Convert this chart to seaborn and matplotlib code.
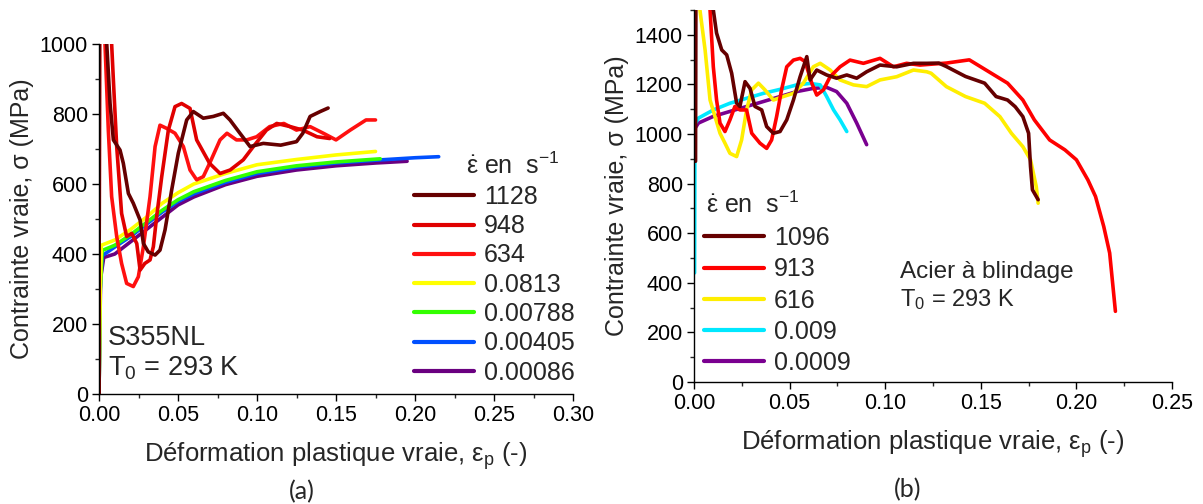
import matplotlib
matplotlib.use('Agg')
import matplotlib.pyplot as plt
import pandas as pd
import seaborn as sns
from matplotlib.ticker import MultipleLocator

# ---- panel (a) : S355NL ----
a_1128_x = [0.0, 0.0003, 0.002, 0.0049, 0.0070, 0.0091, 0.0133, 0.0154, 0.0186, 0.0217, 0.0260, 0.0281, 0.0312,
            0.0355, 0.0386, 0.0418, 0.046, 0.0502, 0.0555, 0.0597, 0.066, 0.0723, 0.0787, 0.0829, 0.0892, 0.0956,
            0.104, 0.115, 0.125, 0.129, 0.1336, 0.140, 0.145]
a_1128_y = [0, 1060, 1100, 1000, 830, 726, 697, 659, 573, 545, 497, 430, 406,
            397, 411, 469, 583, 688, 783, 807, 788, 793, 802, 783, 745, 707,
            716, 711, 721, 745, 793, 807, 817]
a_948_x = [0.0, 0.0003, 0.0025, 0.0080, 0.0091, 0.0112, 0.0143, 0.0175, 0.0207, 0.0239, 0.026, 0.029, 0.0323,
           0.0344, 0.0365, 0.0397, 0.0439, 0.0481, 0.0523, 0.0576, 0.0618, 0.070, 0.0766, 0.083, 0.0913, 0.0977,
           0.106, 0.1125, 0.121, 0.129, 0.138, 0.146]
a_948_y = [0, 1060, 1100, 1000, 897, 707, 516, 450, 459, 430, 354, 373, 383,
           421, 507, 621, 754, 821, 830, 816, 726, 659, 630, 640, 669, 707,
           754, 773, 764, 754, 735, 730]
a_634_x = [0.0, 0.0003, 0.002, 0.0038, 0.0059, 0.008, 0.0112, 0.0143, 0.0175, 0.0217, 0.0249, 0.0281, 0.0323,
           0.0355, 0.0386, 0.0428, 0.0481, 0.0534, 0.0576, 0.0618, 0.066, 0.070, 0.0766, 0.081, 0.087, 0.0935,
           0.0998, 0.108, 0.117, 0.125, 0.1336, 0.142, 0.150, 0.159, 0.169, 0.175]
a_634_y = [0, 1060, 1100, 1000, 754, 564, 450, 373, 316, 307, 335, 421, 564,
           707, 768, 759, 745, 707, 640, 612, 621, 659, 726, 745, 726, 726,
           735, 764, 773, 754, 764, 745, 726, 754, 783, 783]
a_0813_x = [0.0, 0.0008, 0.0015, 0.01, 0.02, 0.03, 0.04, 0.05, 0.06, 0.08, 0.10, 0.125, 0.15, 0.175]
a_0813_y = [0, 300, 425, 440, 470, 505, 545, 575, 600, 630, 655, 670, 683, 693]
a_00788_x = [0.0, 0.0008, 0.002, 0.01, 0.02, 0.03, 0.04, 0.05, 0.06, 0.08, 0.10, 0.125, 0.15, 0.178]
a_00788_y = [0, 300, 410, 425, 455, 490, 525, 555, 578, 610, 635, 652, 663, 672]
a_00405_x = [0.0, 0.0008, 0.002, 0.01, 0.02, 0.03, 0.04, 0.05, 0.06, 0.08, 0.10, 0.125, 0.15, 0.175, 0.20, 0.215]
a_00405_y = [0, 300, 395, 420, 450, 485, 520, 550, 572, 605, 630, 648, 660, 668, 675, 678]
a_00086_x = [0.0, 0.001, 0.003, 0.01, 0.02, 0.03, 0.04, 0.05, 0.06, 0.08, 0.10, 0.125, 0.15, 0.175, 0.195]
a_00086_y = [0, 330, 390, 400, 435, 470, 505, 540, 563, 598, 622, 640, 652, 660, 665]

a_labels = ['1128', '948', '634', '0.0813', '0.00788', '0.00405', '0.00086']
a_colors = ['#660000', '#e00000', '#ff1010', '#ffff00', '#33ff00', '#0050ff', '#6a0080']
a_curves = [(a_1128_x, a_1128_y), (a_948_x, a_948_y), (a_634_x, a_634_y), (a_0813_x, a_0813_y),
            (a_00788_x, a_00788_y), (a_00405_x, a_00405_y), (a_00086_x, a_00086_y)]

# ---- panel (b) : Acier a blindage ----
b_1096_x = [0.0008, 0.0009, 0.001, 0.0101, 0.0118, 0.0145, 0.0171, 0.0197, 0.0223, 0.024, 0.0267, 0.0293, 0.0319,
            0.0354, 0.038, 0.0415, 0.045, 0.0485, 0.052, 0.0555, 0.059, 0.0607, 0.0642, 0.0694, 0.0746, 0.0799,
            0.0851, 0.0903, 0.0973, 0.106, 0.1148, 0.1217, 0.128, 0.132, 0.142, 0.152, 0.158, 0.164, 0.168,
            0.172, 0.175, 0.176, 0.177, 0.180]
b_1096_y = [890, 1200, 1600, 1500, 1407, 1339, 1319, 1245, 1124, 1111, 1211, 1184, 1111,
            1097, 1030, 1003, 1010, 1057, 1137, 1231, 1312, 1218, 1258, 1238, 1225, 1238,
            1225, 1251, 1278, 1271, 1285, 1285, 1286, 1272, 1232, 1205, 1151, 1137, 1110,
            1070, 1003, 869, 775, 735]
b_913_x = [0.0075, 0.0084, 0.0101, 0.0118, 0.0136, 0.0162, 0.0188, 0.0214, 0.024, 0.0275, 0.0302, 0.0345, 0.038,
           0.0406, 0.0432, 0.0458, 0.0485, 0.052, 0.0555, 0.0581, 0.0616, 0.0642, 0.0677, 0.0712, 0.0764,
           0.0816, 0.0886, 0.0973, 0.1043, 0.1112, 0.1182, 0.132, 0.144, 0.154, 0.164, 0.172, 0.178, 0.186,
           0.194, 0.200, 0.206, 0.210, 0.2143, 0.2174, 0.2204]
b_913_y = [1600, 1500, 1271, 1137, 1044, 1010, 1057, 1111, 1097, 1097, 1003, 963, 942,
           976, 1070, 1178, 1271, 1298, 1305, 1292, 1205, 1157, 1178, 1231, 1271,
           1298, 1285, 1305, 1271, 1285, 1278, 1286, 1299, 1252, 1205, 1137, 1057, 976,
           936, 896, 815, 748, 627, 520, 285]
b_616_x = [0.0025, 0.0031, 0.0058, 0.0084, 0.0110, 0.0136, 0.0162, 0.0188, 0.0223, 0.0249, 0.0275, 0.0302, 0.0337,
           0.0371, 0.0415, 0.0467, 0.052, 0.0572, 0.0624, 0.066, 0.0712, 0.0764, 0.0834, 0.0903, 0.0973,
           0.106, 0.1148, 0.1217, 0.124, 0.132, 0.142, 0.152, 0.160, 0.166, 0.172, 0.176, 0.179, 0.180]
b_616_y = [1600, 1500, 1339, 1137, 1070, 1003, 963, 922, 909, 976, 1097, 1178, 1205,
           1178, 1137, 1151, 1164, 1205, 1271, 1285, 1258, 1218, 1198, 1191, 1218,
           1231, 1258, 1251, 1245, 1191, 1151, 1124, 1070, 1003, 949, 896, 788, 721]
b_009_x = [0.0003, 0.0005, 0.0023, 0.0101, 0.0188, 0.0275, 0.0363, 0.045, 0.0537, 0.0607, 0.066, 0.0694, 0.073,
           0.0764, 0.0799]
b_009_y = [440, 1040, 1064, 1097, 1124, 1144, 1164, 1180, 1198, 1204, 1198, 1151, 1097,
           1057, 1010]
b_0009_x = [0.0003, 0.0023, 0.0101, 0.0188, 0.0275, 0.0363, 0.045, 0.0537, 0.0624, 0.0694, 0.0746, 0.0799,
            0.0851, 0.0903]
b_0009_y = [1020, 1044, 1071, 1091, 1111, 1131, 1151, 1171, 1184, 1188, 1171, 1124,
            1044, 957]

b_labels = ['1096', '913', '616', '0.009', '0.0009']
b_colors = ['#660000', '#ff0000', '#ffee00', '#00e8ff', '#7a0090']
b_curves = [(b_1096_x, b_1096_y), (b_913_x, b_913_y), (b_616_x, b_616_y), (b_009_x, b_009_y),
            (b_0009_x, b_0009_y)]

sns.set_style('ticks')
plt.rcParams['font.family'] = ['Liberation Sans', 'DejaVu Sans']
plt.rcParams['mathtext.fontset'] = 'custom'
plt.rcParams['mathtext.rm'] = 'Liberation Sans'
plt.rcParams['mathtext.it'] = 'Liberation Sans:italic'
plt.rcParams['mathtext.bf'] = 'Liberation Sans:bold'

W, H = 1203, 504
fig = plt.figure(figsize=(W / 100, H / 100), dpi=100)
ax1 = fig.add_axes([99 / W, 1 - 394 / H, 474 / W, 350 / H])
ax2 = fig.add_axes([694 / W, 1 - 382 / H, 478 / W, 372 / H])

legend_title = r'$\dot{\mathrm{\varepsilon}}$ en  s$^{\mathrm{-1}}$'
xlabel = r'Déformation plastique vraie, $\mathrm{\varepsilon}_\mathrm{p}$ (-)'


def draw_panel(ax, curves, labels, colors):
    # draw bottom-of-legend first so fast tests stay on top
    for (x, y), lab, col in reversed(list(zip(curves, labels, colors))):
        df = pd.DataFrame({'strain': x, 'stress': y})
        sns.lineplot(data=df, x='strain', y='stress', color=col, lw=2.6, sort=False,
                     estimator=None, label=lab, ax=ax)
    handles, labs = ax.get_legend_handles_labels()
    return handles[::-1], labs[::-1]


def style_axes(ax, xmax, ymax, ymajor):
    ax.set_xlim(0, xmax)
    ax.set_ylim(0, ymax)
    ax.xaxis.set_major_locator(MultipleLocator(0.05))
    ax.xaxis.set_minor_locator(MultipleLocator(0.025))
    ax.yaxis.set_major_locator(MultipleLocator(ymajor))
    ax.yaxis.set_minor_locator(MultipleLocator(ymajor / 2))
    ax.xaxis.set_major_formatter(plt.FuncFormatter(lambda v, p: f'{v:.2f}'))
    ax.tick_params(which='major', length=5, width=1, labelsize=15.5, pad=3, colors='black')
    ax.tick_params(which='minor', length=3, width=1)
    for s in ['top', 'right']:
        ax.spines[s].set_visible(False)
    for s in ['left', 'bottom']:
        ax.spines[s].set_color('black')
        ax.spines[s].set_linewidth(1)
    ax.set_ylabel('Contrainte vraie, σ (MPa)', fontsize=18, labelpad=4)
    ax.set_xlabel(xlabel, fontsize=18.5, labelpad=10)


def add_legend(ax, h, l, left, top, spacing):
    leg = ax.legend(h, l, loc='upper left', bbox_to_anchor=(left / W, 1 - top / H),
                    bbox_transform=fig.transFigure, frameon=False, fontsize=18,
                    handlelength=2.4, handletextpad=0.4, labelspacing=spacing, borderpad=0,
                    borderaxespad=0)
    for ln in leg.get_lines():
        ln.set_linewidth(3)


h, l = draw_panel(ax1, a_curves, a_labels, a_colors)
style_axes(ax1, 0.30, 1000, 200)
add_legend(ax1, h, l, 414, 185, 0.21)
fig.text(466 / W, 1 - 166 / H, legend_title, fontsize=18, va='center', ha='left')
ax1.text(0.0057, 160, 'S355NL', fontsize=19.5, va='center', ha='left')
ax1.text(0.0057, 74, 'T$_0$ = 293 K', fontsize=19.5, va='center', ha='left')

h, l = draw_panel(ax2, b_curves, b_labels, b_colors)
style_axes(ax2, 0.25, 1500, 200)
add_legend(ax2, h, l, 704, 226, 0.29)
fig.text(706 / W, 1 - 205 / H, legend_title, fontsize=18, va='center', ha='left')
ax2.text(0.1077, 444, 'Acier à blindage', fontsize=17.5, va='center', ha='left')
ax2.text(0.1077, 331, 'T$_0$ = 293 K', fontsize=17, va='center', ha='left')

fig.text(302 / W, 1 - 492 / H, '(a)', fontsize=18, family=['Lato', 'DejaVu Sans'], ha='center', va='center')
fig.text(908 / W, 1 - 490 / H, '(b)', fontsize=18, family=['Lato', 'DejaVu Sans'], ha='center', va='center')

fig.savefig('out.png', dpi=100)
